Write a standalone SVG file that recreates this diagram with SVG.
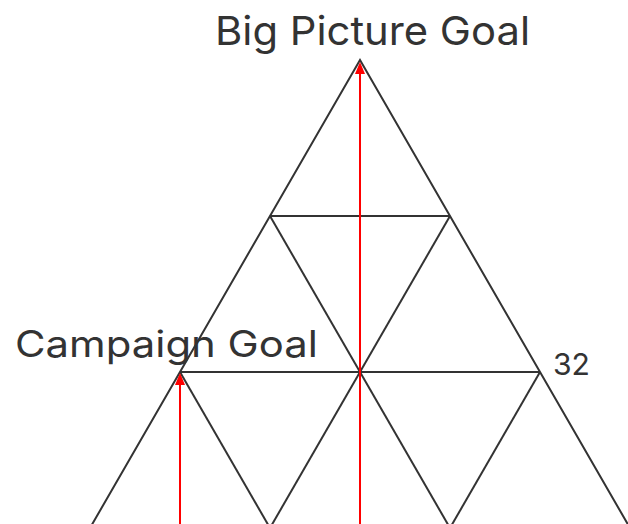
<svg xmlns="http://www.w3.org/2000/svg" width="628" height="524" viewBox="0 0 628 524">
<style>
.grid{stroke:#333;stroke-width:2;fill:none;stroke-linecap:butt}
.arrow{stroke:#ff0000;stroke-width:2;fill:none}
.lbl{font-family:"Inter","Liberation Sans",sans-serif;fill:#333}
</style>
<defs>
<marker id="ah" markerWidth="10" markerHeight="12" refX="5" refY="0" orient="auto-start-reverse" markerUnits="userSpaceOnUse" viewBox="0 0 10 12">
<path d="M0,12 L5,0 L10,12 Z" fill="#ff0000"/>
</marker>
</defs>
<rect width="628" height="524" fill="#fff"/>
<g id="pyramid">
<polyline class="grid" points="90,528 360,60 630,528" stroke-linejoin="miter"/>
<line class="grid" x1="270" y1="216" x2="450" y2="216"/>
<line class="grid" x1="180" y1="372" x2="540" y2="372"/>
<line class="grid" x1="270" y1="216" x2="450" y2="528"/>
<line class="grid" x1="450" y1="216" x2="270" y2="528"/>
<line class="grid" x1="180" y1="372" x2="270" y2="528"/>
<line class="grid" x1="540" y1="372" x2="450" y2="528"/>
</g>
<g id="connectors">
<line class="arrow" x1="360" y1="524" x2="360" y2="74"/>
<path d="M355,74 L360,62 L365,74 Z" fill="#ff0000"/>
<line class="arrow" x1="180" y1="524" x2="180" y2="385"/>
<path d="M175,385 L180,373 L185,385 Z" fill="#ff0000"/>
</g>
<g id="label-big-picture">
<text class="lbl" x="215" y="45" font-size="40" textLength="315" lengthAdjust="spacingAndGlyphs">Big Picture Goal</text>
</g>
<g id="label-campaign">
<text class="lbl" x="15" y="357" font-size="37" textLength="303" lengthAdjust="spacingAndGlyphs">Campaign Goal</text>
</g>
<g id="label-32">
<text class="lbl" x="553" y="375" font-size="30" textLength="37" lengthAdjust="spacingAndGlyphs">32</text>
</g>
</svg>
